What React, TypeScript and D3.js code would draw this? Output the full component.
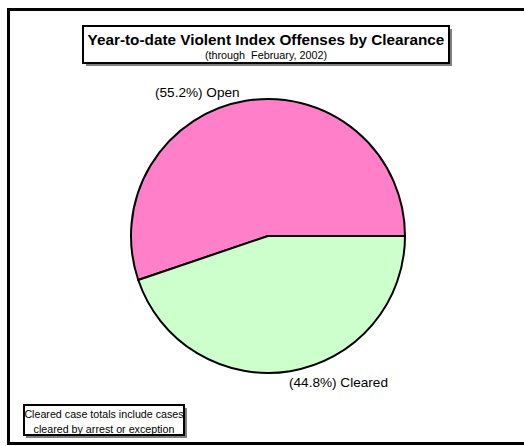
import React from "react";
import * as d3 from "d3";

const categories = ["Open", "Cleared"];
const percents = [55.2, 44.8];
const colors = ["#ff80c8", "#ccffcc"];
const title = "Year-to-date Violent Index Offenses by Clearance";
const subtitle = "(through\u00a0\u00a0February, 2002)";
const noteLines = ["Cleared case totals include cases", "cleared by arrest or exception"];

export default function App() {
  const W = 524, H = 446;
  const cx = 268, cy = 236, r = 137;
  const total = d3.sum(percents);
  const clearedAngle = (percents[1] / total) * 2 * Math.PI;
  const start = Math.PI / 2;
  const arc = d3.arc<any>().innerRadius(0).outerRadius(r);
  const slices = [
    { cat: categories[0], pct: percents[0], color: colors[0], startAngle: start + clearedAngle, endAngle: start + 2 * Math.PI },
    { cat: categories[1], pct: percents[1], color: colors[1], startAngle: start, endAngle: start + clearedAngle },
  ];
  const font = "Liberation Sans, Arial, sans-serif";
  return (
    <svg width={W} height={H} style={{ position: "absolute", left: 0, top: 0, overflow: "hidden", display: "block" }}>
      <rect x={0} y={0} width={W} height={H} fill="#fff" />
      <rect x={8.5} y={9.5} width={700} height={434} fill="none" stroke="#000" strokeWidth={3} />
      {/* title box */}
      <rect x={86} y={29} width={366} height={37} fill="#808080" />
      <rect x={83} y={26} width={366} height={37} fill="#fff" stroke="#000" strokeWidth={2} />
      <text x={266} y={45} textAnchor="middle" fontFamily={font} fontWeight="bold" fontSize={15.3}>{title}</text>
      <text x={266} y={58.5} textAnchor="middle" fontFamily={font} fontSize={10.8}>{subtitle}</text>
      <g transform={`translate(${cx},${cy})`}>
        {slices.map((s, i) => (
          <path key={i} d={arc(s as any) as string} fill={s.color} stroke="#000" strokeWidth={2} strokeLinejoin="round" />
        ))}
      </g>
      <text x={155} y={97} fontFamily={font} fontSize={13.6}>{`(${percents[0].toFixed(1)}%) ${categories[0]}`}</text>
      <text x={289} y={387} fontFamily={font} fontSize={13.6}>{`(${percents[1].toFixed(1)}%) ${categories[1]}`}</text>
      {/* note box */}
      <rect x={26} y={408} width={161} height={30} fill="#808080" />
      <rect x={24} y={405} width={160} height={30} fill="#fff" stroke="#000" strokeWidth={2} />
      <text x={104} y={418} textAnchor="middle" fontFamily={font} fontSize={10.7}>{noteLines[0]}</text>
      <text x={104} y={433} textAnchor="middle" fontFamily={font} fontSize={10.7}>{noteLines[1]}</text>
      <line x1={24} x2={184} y1={435} y2={435} stroke="#000" strokeWidth={2} />
    </svg>
  );
}
